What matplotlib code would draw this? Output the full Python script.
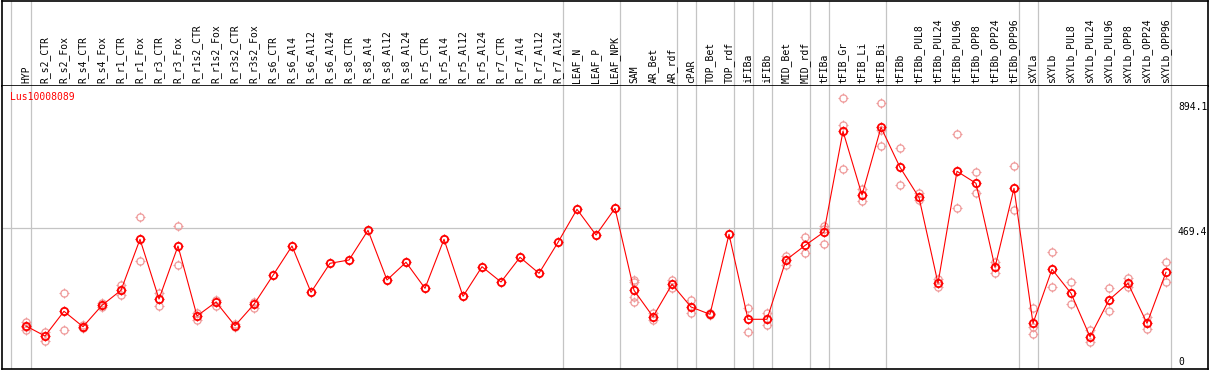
import numpy as np
import matplotlib
matplotlib.use('Agg')
import matplotlib.pyplot as plt
from matplotlib.path import Path

gene = "Lus10008089"
samples = ["HYP", "R_s2_CTR", "R_s2_Fox", "R_s4_CTR", "R_s4_Fox", "R_r1_CTR", "R_r1_Fox",
           "R_r3_CTR", "R_r3_Fox", "R_r1s2_CTR", "R_r1s2_Fox", "R_r3s2_CTR", "R_r3s2_Fox",
           "R_s6_CTR", "R_s6_Al4", "R_s6_Al12", "R_s6_Al24", "R_s8_CTR", "R_s8_Al4",
           "R_s8_Al12", "R_s8_Al24", "R_r5_CTR", "R_r5_Al4", "R_r5_Al12", "R_r5_Al24",
           "R_r7_CTR", "R_r7_Al4", "R_r7_Al12", "R_r7_Al24", "LEAF_N", "LEAF_P", "LEAF_NPK",
           "SAM", "AR_Bet", "AR_rdf", "cPAR", "TOP_Bet", "TOP_rdf", "iFIBa", "iFIBb",
           "MID_Bet", "MID_rdf", "tFIBa", "tFIB_Gr", "tFIB_Li", "tFIB_Bi", "tFIBb",
           "tFIBb_PUL8", "tFIBb_PUL24", "tFIBb_PUL96", "tFIBb_OPP8", "tFIBb_OPP24",
           "tFIBb_OPP96", "sXYLa", "sXYLb", "sXYLb_PUL8", "sXYLb_PUL24", "sXYLb_PUL96",
           "sXYLb_OPP8", "sXYLb_OPP24", "sXYLb_OPP96"]
group_sizes = [1, 28, 3, 3, 1, 2, 1, 1, 2, 1, 3, 7, 1, 7]
means = [150.3, 117.6, 198.3, 148.0, 217.9, 266.9, 433.5, 238.5, 411.6, 183.0,
         228.7, 151.3, 221.2, 315.9, 411.6, 260.4, 355.1, 365.9, 462.9, 300.6,
         358.4, 273.4, 433.5, 247.3, 344.0, 294.0, 374.7, 322.4, 423.7, 531.5,
         447.6, 534.8, 266.9, 180.7, 286.5, 212.4, 188.5, 449.9, 172.2, 172.2,
         365.9, 413.3, 457.4, 786.4, 578.3, 799.4, 668.7, 570.1, 289.8, 655.7,
         616.5, 342.0, 600.1, 159.1, 335.5, 257.1, 115.3, 235.2, 289.8, 159.1, 325.7]
replicates = [
    [164.3, 147.0, 137.2], [131.7, 101.3], [257.1, 136.2], [152.6, 143.7],
    [224.4, 213.3], [284.2, 251.6], [505.4, 361.7], [259.1, 216.6], [476.0, 348.6],
    [193.7, 169.9], [235.2, 215.6], [156.8, 146.0], [229.7, 210.0],
    [], [], [], [], [], [], [], [], [], [], [], [], [], [], [], [], [], [], [],
    [300.6, 294.0, 245.0, 229.7], [191.8, 169.9], [300.6, 273.4], [235.2, 191.8],
    [192.8, 184.6], [], [208.1, 131.7], [191.8, 153.5], [380.0, 349.6], [439.4, 387.8],
    [478.0, 468.8, 417.2], [894.1, 806.0, 662.2], [597.9, 558.7], [877.8, 790.6, 737.4],
    [730.8, 609.9], [583.8, 560.3], [302.8, 276.7], [776.6, 534.8], [652.4, 583.8],
    [360.3, 322.4], [672.0, 528.3], [208.1, 146.0, 123.2], [391.0, 276.7],
    [293.0, 222.2], [137.2, 97.0], [273.4, 199.3], [308.1, 278.7], [178.7, 139.5],
    [358.4, 293.0]]
scale_labels = ["894.1", "469.4", "0"]
ref_value = 469.4

W, H = 1209, 370
fig = plt.figure(figsize=(W / 100, H / 100), dpi=100)
fig.patch.set_facecolor('white')

def rect(x0, y0, x1, y1):
    return [x0 / W, 1 - y1 / H, (x1 - x0) / W, (y1 - y0) / H]

mono = 'DejaVu Sans Mono'
gray = '#c4c4c4'
pink = '#ef9a9a'

# pixel mapping helpers for limits
x0px, dx = 26.0, 19.0
xlim = ((1.5 - x0px) / dx, (1208 - x0px) / dx)
k = 0.3061
ylim = ((372 - 369) / k, (372 - 86) / k)

ax_head = fig.add_axes(rect(1.5, 1, 1208, 86))
ax = fig.add_axes(rect(1.5, 86, 1208, 369))
for a in (ax_head, ax):
    a.set_xlim(*xlim)
    a.set_xticks([])
    a.set_yticks([])
    for s in a.spines.values():
        s.set_color('black')
        s.set_linewidth(1.2)
ax_head.set_ylim(0, 1)
ax.set_ylim(*ylim)
ax.spines['top'].set_visible(False)

# group separators
ends = np.cumsum(group_sizes) - 1
seps = [-0.8] + [e + 0.24 for e in ends]
for a in (ax_head, ax):
    for sx in seps:
        a.axvline(sx, color=gray, lw=0.9, zorder=0)
ax.hlines(ref_value, xlim[0], seps[-1], color=gray, lw=0.9, zorder=0)

# header labels
xs = np.arange(len(samples))
for i, name in enumerate(samples):
    ax_head.text(i, 3.0 / 85, name, rotation=90, ha='center', va='bottom',
                 family=mono, fontsize=7, color='black')

# spike marker
r1, r2 = 0.68, 1.0
verts = [(0, r1), (0, r2), (0, -r1), (0, -r2), (r1, 0), (r2, 0), (-r1, 0), (-r2, 0)]
codes = [Path.MOVETO, Path.LINETO] * 4
spike = Path(verts, codes)

# replicates
rx = [i for i, r in enumerate(replicates) for _ in r]
ry = [v for r in replicates for v in r]
ax.plot(rx, ry, linestyle='none', marker='o', ms=5.2, mfc='none', mec=pink, mew=0.9, zorder=2)
ax.plot(rx, ry, linestyle='none', marker=spike, ms=6.8, mfc='none', mec=pink, mew=0.8, zorder=2)

# means
ax.plot(xs, means, color='red', lw=0.8, zorder=3)
ax.plot(xs, means, linestyle='none', marker='o', ms=5.3, mfc='none', mec='red', mew=1.3, zorder=4)
ax.plot(xs, means, linestyle='none', marker=spike, ms=6.9, mfc='none', mec='red', mew=0.9, zorder=4)

# gene label
fig.text(10 / W, 1 - 97.3 / H, gene, ha='left', va='center', family=mono, fontsize=7, color='red')

# scale labels
for lab, ypx in zip(scale_labels, [107.3, 232.3, 361.7]):
    fig.text(1178 / W, 1 - ypx / H, lab, ha='left', va='center', family=mono, fontsize=7, color='black')

fig.savefig('out.png', dpi=100, facecolor='white')
